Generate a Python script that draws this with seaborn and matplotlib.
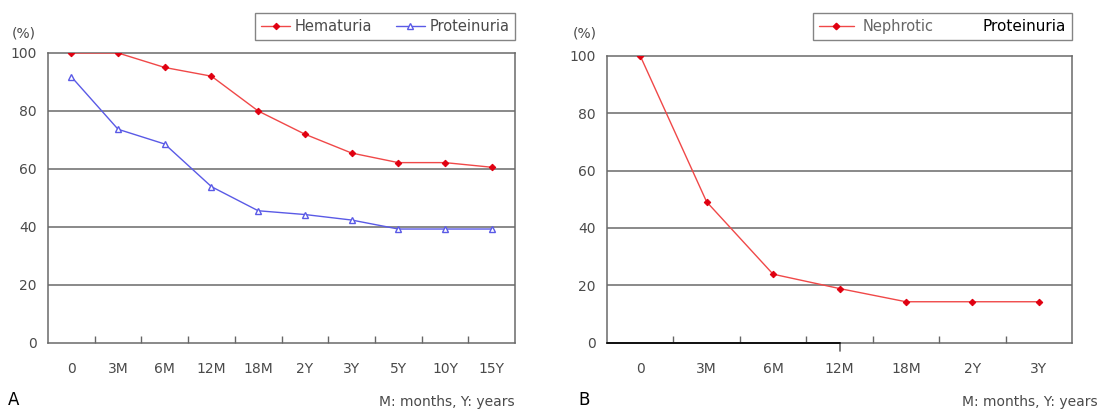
import numpy as np
import pandas as pd
import matplotlib
matplotlib.use("Agg")
import matplotlib.pyplot as plt
import seaborn as sns
from matplotlib.lines import Line2D

# Datos del panel A
etiquetas_a = ['0', '3M', '6M', '12M', '18M', '2Y', '3Y', '5Y', '10Y', '15Y']
hematuria = [100, 100, 95, 92, 80, 72, 65.5, 62.2, 62.2, 60.6]
proteinuria = [91.8, 73.7, 68.6, 53.9, 45.6, 44.3, 42.4, 39.3, 39.3, 39.3]

# Datos del panel B
etiquetas_b = ['0', '3M', '6M', '12M', '18M', '2Y', '3Y']
nefrotico = [100, 49.1, 23.9, 18.9, 14.3, 14.3, 14.3]

yticks = [0, 20, 40, 60, 80, 100]

sns.set_theme(style="white")
plt.rcParams['font.family'] = ['DejaVu Sans']

gris = '#4a4a4a'
rojo_linea = '#f04848'
rojo_marca = '#e00010'
azul = '#5a5ae6'

fig = plt.figure(figsize=(11.01, 4.13), dpi=100)
axA = fig.add_axes([0.0436, 0.1695, 0.4242, 0.7022])
axB = fig.add_axes([0.5513, 0.170, 0.4224, 0.695])

df_a = pd.DataFrame({'pos': np.arange(len(etiquetas_a)), 'hem': hematuria, 'pro': proteinuria})
df_b = pd.DataFrame({'pos': np.arange(len(etiquetas_b)), 'nef': nefrotico})

sns.lineplot(data=df_a, x='pos', y='hem', ax=axA, color=rojo_linea, lw=1.0,
             marker='D', markersize=3.3, markerfacecolor=rojo_marca, markeredgecolor=rojo_marca,
             label='Hematuria', legend=False, zorder=4)
sns.lineplot(data=df_a, x='pos', y='pro', ax=axA, color=azul, lw=1.0,
             marker='^', markersize=4.5, markerfacecolor='white', markeredgecolor=azul,
             markeredgewidth=1, label='Proteinuria', legend=False, zorder=4)
sns.lineplot(data=df_b, x='pos', y='nef', ax=axB, color=rojo_linea, lw=1.0,
             marker='D', markersize=3.3, markerfacecolor=rojo_marca, markeredgecolor=rojo_marca,
             legend=False, zorder=4)

for ax, etiquetas in [(axA, etiquetas_a), (axB, etiquetas_b)]:
    n = len(etiquetas)
    ax.set_xlim(-0.5, n - 0.5)
    ax.set_ylim(0, 100)
    ax.set_yticks(yticks)
    ax.set_yticklabels([str(v) for v in yticks])
    ax.set_xticks(np.arange(n))
    ax.set_xticklabels(etiquetas)
    ax.set_xticks(np.arange(n - 1) + 0.5, minor=True)
    ax.tick_params(axis='x', which='major', length=0, pad=14, labelsize=10, labelcolor=gris)
    ax.tick_params(axis='x', which='minor', direction='in', length=5, width=1, color='#666666', bottom=True)
    ax.tick_params(axis='y', length=0, pad=8, labelsize=10, labelcolor=gris)
    ax.set_xlabel('')
    ax.set_ylabel('')
    ax.grid(False)
    for v in yticks[1:-1]:
        ax.axhline(v, color='#6a6a6a', lw=1.1, zorder=1)
    for s in ax.spines.values():
        s.set_color('#6a6a6a')
        s.set_linewidth(1.1)

# Detalle del eje en B (linea oscura hasta 12M y marca bajo 12M)
axB.axhline(0, xmax=0.5, color='#111111', lw=1.4, zorder=3, clip_on=False)
axB.axvline(3, ymin=-0.03, ymax=0, color='#666666', lw=1.2, clip_on=False)

# Leyendas
legA = axA.legend(loc='lower right', bbox_to_anchor=(1.0, 1.045), borderaxespad=0,
                  ncol=2, fontsize=10.5, frameon=True, fancybox=False, edgecolor='#666666',
                  handlelength=2.0, columnspacing=1.6, handletextpad=0.3)
legA.get_frame().set_linewidth(1.0)
for t in legA.get_texts():
    t.set_color(gris)

hB = [Line2D([], [], color=rojo_linea, lw=1.0, marker='D', markersize=3.3,
             markerfacecolor=rojo_marca, markeredgecolor=rojo_marca),
      Line2D([], [], alpha=0)]
legB = axB.legend(hB, ['Nephrotic', 'Proteinuria'], loc='lower right', bbox_to_anchor=(1.0, 1.055),
                  borderaxespad=0, ncol=2, fontsize=10.5, frameon=True, fancybox=False,
                  edgecolor='#666666', handlelength=2.4, columnspacing=0.4, handletextpad=0.6)
legB.get_frame().set_linewidth(1.0)
legB.get_texts()[0].set_color('#666666')
legB.get_texts()[1].set_color('black')
legB.get_texts()[1].set_fontsize(11)

# Textos
fig.text(0.0218, 0.92, '(%)', ha='center', va='center', fontsize=10, color=gris)
fig.text(0.531, 0.92, '(%)', ha='center', va='center', fontsize=10, color=gris)
fig.text(0.007, 0.031, 'A', ha='left', va='center', fontsize=12, color='black')
fig.text(0.525, 0.031, 'B', ha='left', va='center', fontsize=12, color='black')
fig.text(0.467, 0.027, 'M: months, Y: years', ha='right', va='center', fontsize=10, color=gris)
fig.text(0.997, 0.027, 'M: months, Y: years', ha='right', va='center', fontsize=10, color=gris)

fig.savefig('out.png', dpi=100)
